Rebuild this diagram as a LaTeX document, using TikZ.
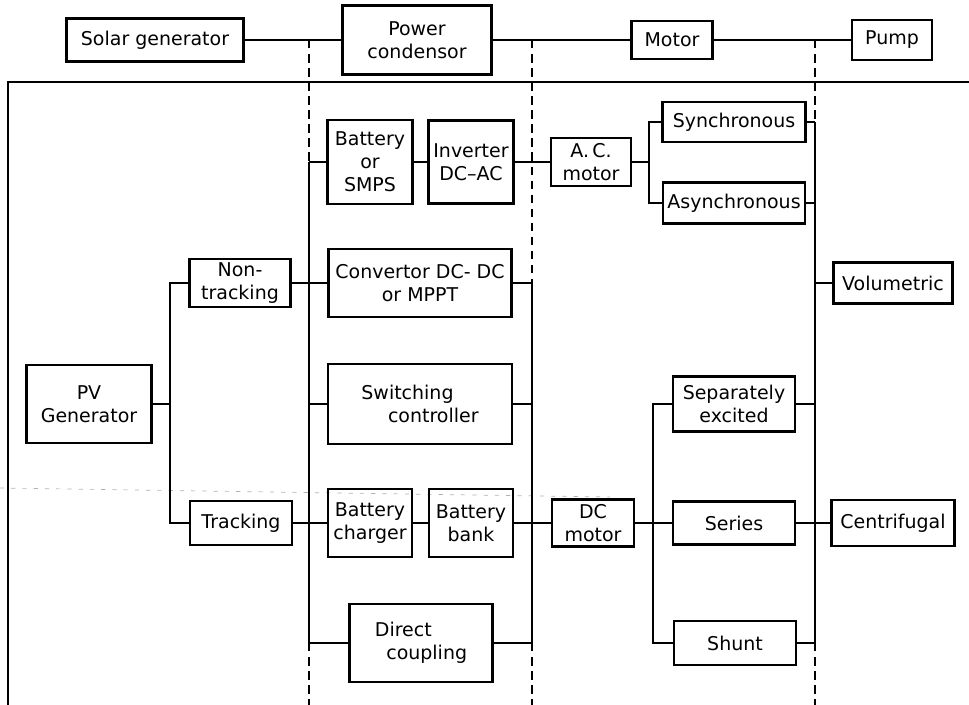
\documentclass[tikz,border=0pt]{standalone}
\usepackage{fontspec}
\setsansfont{DejaVu Sans}
\usepackage{tikz}

\begin{document}
\begin{tikzpicture}[x=0.025cm,y=-0.025cm,
  blk/.style={draw, line width=1.6pt, align=center, inner sep=1pt,
    font=\sffamily\fontsize{13.5}{16.5}\selectfont},
  sz/.style 2 args={minimum width=#1*0.025cm, minimum height=#2*0.025cm},
  ln/.style={line width=1.6pt},
  dsh/.style={line width=1.6pt, dash pattern=on 6pt off 4pt}]
\useasboundingbox (0,0) rectangle (969,705);

% top row
\node[blk, sz={177}{43}] (solar) at (155,40) {Solar generator};
\node[blk, sz={149}{69}] (power) at (417,40) {Power\\condensor};
\node[blk, sz={81}{38}] (motor) at (672,40) {Motor};
\node[blk, sz={80}{40}] (pump) at (892,40) {Pump};
\draw[ln] (solar) -- (power) -- (motor) -- (pump);

% frame
\draw[ln] (8,705) |- (969,82);
\draw[gray!60, line width=0.5pt, dash pattern=on 3pt off 5pt] (0,488) -- (610,497);

% the three buses
\coordinate (Ltop) at (309,40);
\coordinate (La) at (309,162);
\coordinate (Lb) at (309,643);
\coordinate (Lbot) at (309,705);
\coordinate (Mtop) at (532,40);
\coordinate (Ma) at (532,283);
\coordinate (Mb) at (532,643);
\coordinate (Mbot) at (532,705);
\coordinate (Rtop) at (815,40);
\coordinate (Ra) at (815,122);
\coordinate (Rb) at (815,643);
\coordinate (Rbot) at (815,705);
\draw[dsh] (Ltop) -- (La);
\draw[ln] (La) -- (Lb);
\draw[dsh] (Lb) -- (Lbot);
\draw[dsh] (Mtop) -- (Ma);
\draw[ln] (Ma) -- (Mb);
\draw[dsh] (Mb) -- (Mbot);
\draw[dsh] (Rtop) -- (Ra);
\draw[ln] (Ra) -- (Rb);
\draw[dsh] (Rb) -- (Rbot);

% generator
\node[blk, sz={125}{78}] (pv) at (89,404) {PV\\Generator};
\node[blk, sz={101}{48}] (nontr) at (240,283) {Non-\\tracking};
\node[blk, sz={102}{44}] (track) at (241,523) {Tracking};
\coordinate (pvj) at (170,404);
\draw[ln] (pv) -- (pvj);
\draw[ln] (nontr.west) -| (pvj) |- (track.west);

% power condensor
\node[blk, sz={85}{84}] (batt) at (370,162) {Battery\\or\\SMPS};
\node[blk, sz={85}{83}] (inv) at (471,162) {Inverter\\DC--AC};
\node[blk, sz={183}{68}] (conv) at (420,283) {Convertor DC- DC\\or MPPT};
\node[blk, sz={184}{80}, align=left] (sw) at (420,404) {Switching\\\hspace*{1.4em}controller};
\node[blk, sz={84}{68}] (chg) at (370,523) {Battery\\charger};
\node[blk, sz={84}{68}] (bank) at (471,523) {Battery\\bank};
\node[blk, sz={143}{78}, align=left] (dc) at (421,643) {Direct\\\hspace*{0.6em}coupling};

% motor
\node[blk, sz={80}{48}] (acm) at (591,162) {A.\,C.\\motor};
\node[blk, sz={143}{40}] (sync) at (734,122) {Synchronous};
\node[blk, sz={142}{41}] (async) at (734,203) {Asynchronous};
\node[blk, sz={82}{47}] (dcm) at (593,523) {DC\\motor};
\node[blk, sz={122}{55}] (sep) at (734,404) {Separately\\excited};
\node[blk, sz={122}{43}] (series) at (734,523) {Series};
\node[blk, sz={122}{44}] (shunt) at (735,643) {Shunt};

% pump
\node[blk, sz={119}{41}] (vol) at (893,283) {Volumetric};
\node[blk, sz={123}{46}] (centri) at (893,523) {Centrifugal};

% connectors
\draw[ln] (batt.west) -- (La);
\draw[ln] (batt) -- (inv) -- (acm);
\coordinate (acj) at (649,162);
\draw[ln] (acm) -- (acj);
\draw[ln] (sync.west) -| (acj) |- (async.west);
\draw[ln] (sync) -- (Ra);
\draw[ln] (async.east) -- (async.east -| Ra);
\draw[ln] (nontr) -- (conv) -- (Ma);
\draw[ln] (vol.west) -- (vol.west -| Ra);
\draw[ln] (sw.west) -- (sw.west -| La);
\draw[ln] (sw.east) -- (sw.east -| Ma);
\draw[ln] (track) -- (chg) -- (bank) -- (dcm) -- (series) -- (centri);
\coordinate (dcj) at (653,523);
\draw[ln] (sep.west) -| (dcj) |- (shunt.west);
\draw[ln] (sep.east) -- (sep.east -| Ra);
\draw[ln] (shunt) -- (Rb);
\draw[ln] (dc) -- (Lb);
\draw[ln] (dc) -- (Mb);
\end{tikzpicture}
\end{document}
